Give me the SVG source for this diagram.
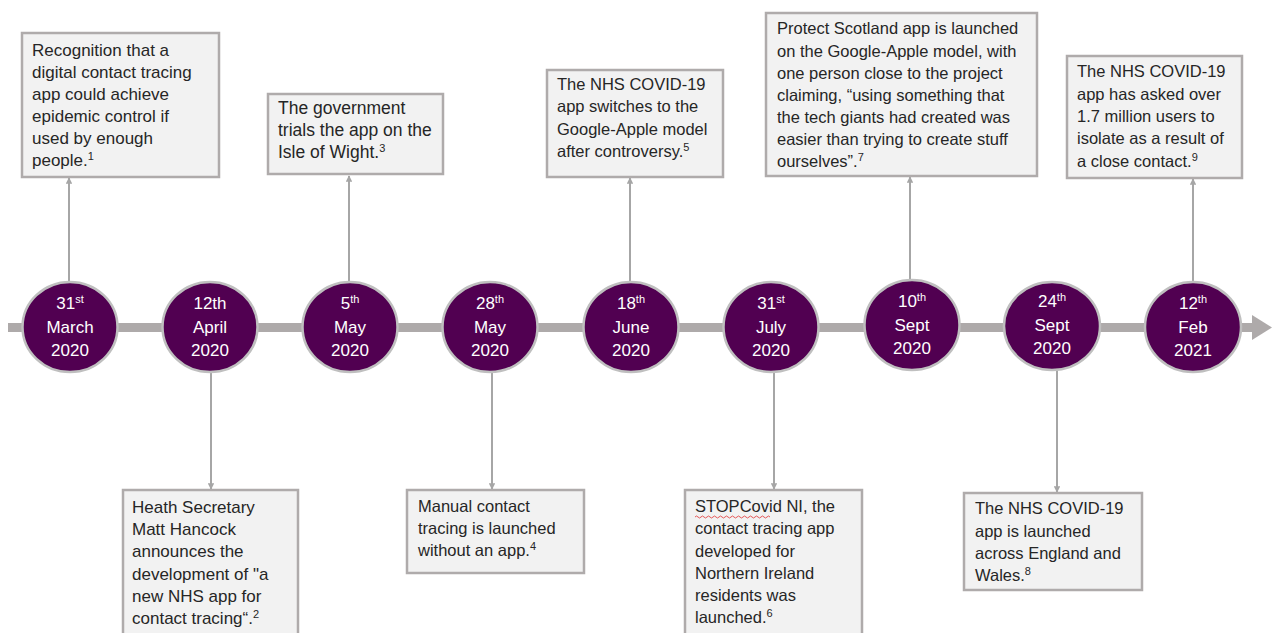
<svg xmlns="http://www.w3.org/2000/svg" width="1272" height="633" viewBox="0 0 1272 633">
<style>
text{font-family:"Liberation Sans",Arial,sans-serif}
.box rect{fill:#f2f2f2;stroke:#afabab;stroke-width:2.5}
.box text{font-size:16.5px;fill:#262626}
#e1 text,#e2 text{font-size:17px}
#e3 text{font-size:17.5px}
.node ellipse{fill:#510051;stroke:#bfbfbf;stroke-width:2.5}
.node text{font-size:17px;fill:#ffffff;text-anchor:middle}
.box text .sup{font-size:11px}
.node text .sup{font-size:11px}
.conn line{stroke:#a6a6a6;stroke-width:2}
</style>
<defs>
<marker id="ah" viewBox="0 0 10 10" refX="9" refY="5" markerWidth="3.2" markerHeight="3.2" orient="auto" markerUnits="strokeWidth">
<path d="M0,0 L10,5 L0,10 z" fill="#a6a6a6"/>
</marker>
</defs>
<rect width="1272" height="633" fill="#ffffff"/>
<g id="timeline">
<rect x="8" y="323" width="1247" height="9" fill="#aeaaaa"/>
<path d="M1252,315 L1272,327.5 L1252,340 z" fill="#aeaaaa"/>
</g>
<g class="conn" id="connectors">
<line x1="69" y1="282" x2="69" y2="178" marker-end="url(#ah)"/>
<line x1="349" y1="282" x2="349" y2="176" marker-end="url(#ah)"/>
<line x1="630" y1="282" x2="630" y2="178" marker-end="url(#ah)"/>
<line x1="910" y1="280" x2="910" y2="177" marker-end="url(#ah)"/>
<line x1="1193" y1="282" x2="1193" y2="179" marker-end="url(#ah)"/>
<line x1="211" y1="372" x2="211" y2="489" marker-end="url(#ah)"/>
<line x1="492" y1="372" x2="492" y2="489" marker-end="url(#ah)"/>
<line x1="774" y1="372" x2="774" y2="489" marker-end="url(#ah)"/>
<line x1="1057" y1="370" x2="1057" y2="492" marker-end="url(#ah)"/>
</g>
<g class="node" id="d1"><ellipse cx="70" cy="327" rx="47.5" ry="45"/>
<text x="70" y="309">31<tspan class="sup" dy="-6">st</tspan></text><text x="70" y="333">March</text><text x="70" y="356">2020</text></g>
<g class="node" id="d2"><ellipse cx="210" cy="327" rx="47.5" ry="45"/>
<text x="210" y="309">12th</text><text x="210" y="333">April</text><text x="210" y="356">2020</text></g>
<g class="node" id="d3"><ellipse cx="350" cy="327" rx="47.5" ry="45"/>
<text x="350" y="309">5<tspan class="sup" dy="-6">th</tspan></text><text x="350" y="333">May</text><text x="350" y="356">2020</text></g>
<g class="node" id="d4"><ellipse cx="490" cy="327" rx="47.5" ry="45"/>
<text x="490" y="309">28<tspan class="sup" dy="-6">th</tspan></text><text x="490" y="333">May</text><text x="490" y="356">2020</text></g>
<g class="node" id="d5"><ellipse cx="631" cy="327" rx="47.5" ry="45"/>
<text x="631" y="309">18<tspan class="sup" dy="-6">th</tspan></text><text x="631" y="333">June</text><text x="631" y="356">2020</text></g>
<g class="node" id="d6"><ellipse cx="771" cy="327" rx="47.5" ry="45"/>
<text x="771" y="309">31<tspan class="sup" dy="-6">st</tspan></text><text x="771" y="333">July</text><text x="771" y="356">2020</text></g>
<g class="node" id="d7"><ellipse cx="912" cy="325" rx="47.5" ry="45"/>
<text x="912" y="307">10<tspan class="sup" dy="-6">th</tspan></text><text x="912" y="331">Sept</text><text x="912" y="354">2020</text></g>
<g class="node" id="d8"><ellipse cx="1052" cy="326" rx="48" ry="44"/>
<text x="1052" y="307">24<tspan class="sup" dy="-6">th</tspan></text><text x="1052" y="331">Sept</text><text x="1052" y="354">2020</text></g>
<g class="node" id="d9"><ellipse cx="1193" cy="327" rx="48" ry="45"/>
<text x="1193" y="309">12<tspan class="sup" dy="-6">th</tspan></text><text x="1193" y="333">Feb</text><text x="1193" y="356">2021</text></g>
<g class="box" id="e1"><rect x="22" y="33" width="197" height="144"/>
<text x="32" y="56">Recognition that a</text><text x="32" y="78">digital contact tracing</text><text x="32" y="100">app could achieve</text><text x="32" y="122">epidemic control if</text><text x="32" y="144">used by enough</text><text x="32" y="166">people.<tspan class="sup" dy="-6">1</tspan></text></g>
<g class="box" id="e2"><rect x="123" y="490" width="175" height="150"/>
<text x="132" y="513">Heath Secretary</text><text x="132" y="535">Matt Hancock</text><text x="132" y="557">announces the</text><text x="132" y="580">development of "a</text><text x="132" y="602">new NHS app for</text><text x="132" y="624">contact tracing“.<tspan class="sup" dy="-6">2</tspan></text></g>
<g class="box" id="e3"><rect x="268" y="94" width="175" height="80"/>
<text x="278" y="114">The government</text><text x="278" y="136">trials the app on the</text><text x="278" y="158">Isle of Wight.<tspan class="sup" dy="-6">3</tspan></text></g>
<g class="box" id="e4"><rect x="407" y="490" width="177" height="83"/>
<text x="418" y="512">Manual contact</text><text x="418" y="534">tracing is launched</text><text x="418" y="556">without an app.<tspan class="sup" dy="-6">4</tspan></text></g>
<g class="box" id="e5"><rect x="547" y="70" width="176" height="107"/>
<text x="557" y="90">The NHS COVID-19</text><text x="557" y="112">app switches to the</text><text x="557" y="135">Google-Apple model</text><text x="557" y="157">after controversy.<tspan class="sup" dy="-6">5</tspan></text></g>
<g class="box" id="e6"><rect x="685" y="490" width="177" height="150"/>
<text x="695" y="512">STOPCovid NI, the</text><text x="695" y="534">contact tracing app</text><text x="695" y="557">developed for</text><text x="695" y="579">Northern Ireland</text><text x="695" y="601">residents was</text><text x="695" y="623">launched.<tspan class="sup" dy="-6">6</tspan></text>
<path d="M695,517 q1.5,-2 3,0 t3,0 t3,0 t3,0 t3,0 t3,0 t3,0 t3,0 t3,0 t3,0 t3,0 t3,0 t3,0 t3,0 t3,0 t3,0 t3,0 t3,0 t3,0 t3,0 t3,0 t3,0 t3,0 t3,0 t3,0" fill="none" stroke="#e03030" stroke-width="0.8"/></g>
<g class="box" id="e7"><rect x="766" y="13" width="271" height="163"/>
<text x="777" y="34">Protect Scotland app is launched</text><text x="777" y="57">on the Google-Apple model, with</text><text x="777" y="79">one person close to the project</text><text x="777" y="101">claiming, “using something that</text><text x="777" y="123">the tech giants had created was</text><text x="777" y="145">easier than trying to create stuff</text><text x="777" y="167">ourselves”.<tspan class="sup" dy="-6">7</tspan></text></g>
<g class="box" id="e8"><rect x="964" y="493" width="178" height="97"/>
<text x="975" y="514">The NHS COVID-19</text><text x="975" y="537">app is launched</text><text x="975" y="559">across England and</text><text x="975" y="581">Wales.<tspan class="sup" dy="-6">8</tspan></text></g>
<g class="box" id="e9"><rect x="1067" y="56" width="175" height="122"/>
<text x="1077" y="77">The NHS COVID-19</text><text x="1077" y="100">app has asked over</text><text x="1077" y="122">1.7 million users to</text><text x="1077" y="144">isolate as a result of</text><text x="1077" y="167">a close contact.<tspan class="sup" dy="-6">9</tspan></text></g>
</svg>
